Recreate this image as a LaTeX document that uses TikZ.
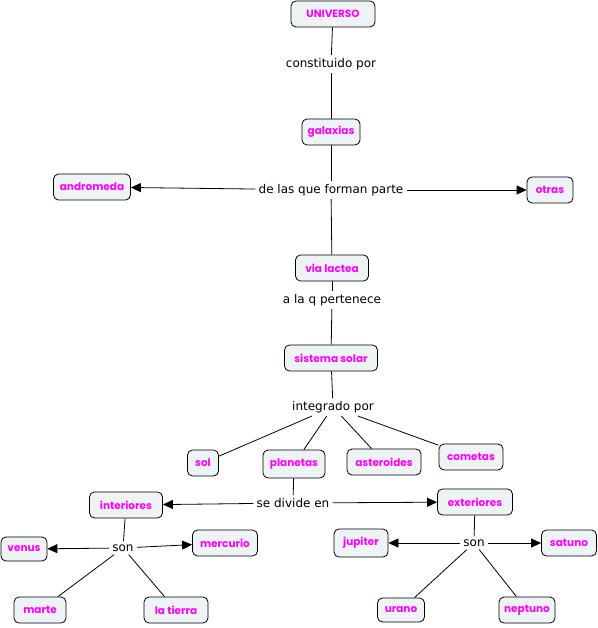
\documentclass[tikz,border=0pt]{standalone}
\usepackage{fontspec}
\setmainfont{DejaVu Sans}
\newfontfamily\conceptfont{Poppins}
\usetikzlibrary{arrows.meta}
\definecolor{cfill}{HTML}{EEF3F6}
\definecolor{ctext}{HTML}{FF00FF}
\begin{document}
\begin{tikzpicture}[x=1pt,y=-1pt,
  concept/.style={draw=black, line width=0.8pt, rounded corners=5pt, fill=cfill, text=ctext,
    font=\conceptfont\bfseries\fontsize{10.5}{12}\selectfont, minimum height=26pt, inner xsep=2pt, minimum width=#1},
  concept/.default=40pt,
  phrase/.style={font=\fontsize{12}{14}\selectfont, inner sep=3pt, text=black},
  conn/.style={draw=black, line width=0.8pt},
  arr/.style={conn, -{Triangle[length=10pt,width=9pt]}}]
\useasboundingbox (0,0) rectangle (597,628);
% concepts
\node[concept=84pt] (universo) at (333,14) {UNIVERSO};
\node[concept=58pt] (galaxias) at (331,132) {galaxias};
\node[concept=77pt] (andromeda) at (92,187) {andromeda};
\node[concept=46pt] (otras) at (550,190) {otras};
\node[concept=73pt] (via) at (332,268) {via lactea};
\node[concept=93pt] (sistema) at (331,358) {sistema solar};
\node[concept=31pt] (sol) at (203,463) {sol};
\node[concept=62pt, minimum height=28pt] (planetas) at (294,464) {planetas};
\node[concept=74pt] (asteroides) at (384,462) {asteroides};
\node[concept=64pt] (cometas) at (471,457) {cometas};
\node[concept=73pt] (interiores) at (126,505) {interiores};
\node[concept=75pt] (exteriores) at (475,502) {exteriores};
\node[concept=46pt, minimum height=24pt] (venus) at (24,549) {venus};
\node[concept=65pt] (mercurio) at (225,543) {mercurio};
\node[concept=52pt] (marte) at (40,610) {marte};
\node[concept=64pt] (tierra) at (176,610) {la tierra};
\node[concept=54pt, minimum height=28pt] (jupiter) at (361,543) {jupiter};
\node[concept=55pt] (satuno) at (569,543) {satuno};
\node[concept=47pt, minimum height=24pt] (urano) at (401,610) {urano};
\node[concept=56pt] (neptuno) at (527,610) {neptuno};
% linking phrases
\node[phrase] (constituido) at (331,64) {constituido por};
\node[phrase] (forman) at (331,190) {de las que forman parte};
\node[phrase] (pertenece) at (332,300) {a la q pertenece};
\node[phrase] (integrado) at (333,407) {integrado por};
\node[phrase] (divide) at (293,503) {se divide en};
\node[phrase] (sonl) at (123,548) {son};
\node[phrase] (sonr) at (474,543) {son};
% connectors
\draw[conn] (universo) -- (constituido);
\draw[conn] (constituido) -- (galaxias);
\draw[conn] (galaxias) -- (forman);
\draw[arr] (forman) -- (andromeda);
\draw[arr] (forman) -- (otras);
\draw[conn] (forman) -- (via);
\draw[conn] (via) -- (pertenece);
\draw[conn] (pertenece) -- (sistema);
\draw[conn] (sistema) -- (integrado);
\draw[conn] (integrado) -- (sol);
\draw[conn] (integrado) -- (planetas);
\draw[conn] (integrado) -- (asteroides);
\draw[conn] (integrado) -- (cometas);
\draw[conn] (planetas) -- (divide);
\draw[arr] (divide) -- (interiores);
\draw[arr] (divide) -- (exteriores);
\draw[conn] (interiores) -- (sonl);
\draw[arr] (sonl) -- (venus);
\draw[arr] (sonl) -- (mercurio);
\draw[conn] (sonl) -- (marte);
\draw[conn] (sonl) -- (tierra);
\draw[conn] (exteriores) -- (sonr);
\draw[arr] (sonr) -- (jupiter);
\draw[arr] (sonr) -- (satuno);
\draw[conn] (sonr) -- (urano);
\draw[conn] (sonr) -- (neptuno);
\end{tikzpicture}
\end{document}
